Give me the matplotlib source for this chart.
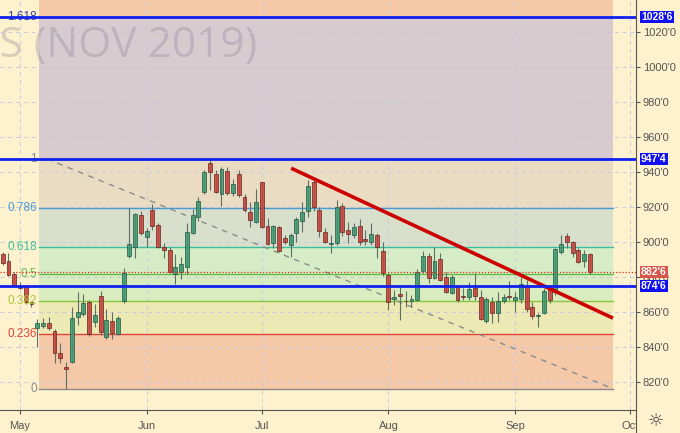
import pandas as pd
import matplotlib
matplotlib.use("Agg")
import matplotlib.pyplot as plt
from matplotlib.lines import Line2D
from matplotlib.transforms import Bbox, TransformedBbox, blended_transform_factory

# trading days (CBOT holidays removed)
holidays = pd.to_datetime(["2019-05-27", "2019-07-04", "2019-09-02"])
days = pd.bdate_range("2019-04-26", "2019-10-04")
days = days[~days.isin(holidays)]

opens = [893, 889, 881.7, 874.4, 874.4, 865.8, 850.6, 851.9, 853.4, 849,
         836.3, 828.6, 831.1, 856.9, 858.8, 865.6, 854, 869.1, 845.4, 854.9,
         847.3, 866.4, 891.9, 897.3, 915.4, 902.6, 918.3, 909.6, 897.1, 895.4,
         881.7, 883, 885.5, 905.3, 914.4, 928.8, 945, 938.9, 927.3, 940.4,
         927.8, 938.7, 925.6, 917.3, 911.6, 934.1, 909.3, 899.2, 908.4, 902.1,
         898.2, 904.9, 912, 917.7, 934.5, 918.3, 905.9, 898.6, 899.2, 920.6,
         906.8, 904, 909.1, 901.5, 899.7, 904, 894.8, 881.1, 867.3, 870.4,
         866.4, 866.2, 866.8, 883.4, 892.2, 879.5, 890.1, 879.7, 870.9, 874.4,
         868.9, 868.2, 873.4, 868.2, 854.9, 865.6, 859.5, 866.2, 868.9, 866.8,
         867.1, 874.9, 862.6, 857.6, 859.5, 873.4, 871.5, 894.2, 903.6, 899.8,
         895.4, 889.2, 893.1]
highs = [894, 893.8, 883, 877, 875, 866, 855.7, 856.3, 857.2, 850,
         842, 831.4, 863, 871.5, 870.2, 866.5, 864.5, 872.1, 861.4, 860,
         857.5, 884.9, 919.4, 916.8, 917.5, 908, 922, 911, 899.6, 897,
         893.1, 891.2, 910.7, 918.7, 925.9, 941.2, 947.5, 941.2, 943, 943,
         936, 941.2, 927.5, 923, 930.3, 934.5, 913.5, 909.5, 909, 904,
         905, 914, 923, 935.5, 935.5, 920, 907.8, 904, 924, 922.5,
         911.6, 911, 912.9, 906.8, 910.7, 905, 900.2, 882.5, 872.5, 874.4,
         872, 869.7, 884.5, 894.8, 893.9, 896.9, 893.4, 883, 881, 875,
         873.4, 877.2, 882, 872.5, 868.5, 868.5, 871.5, 870, 877.8, 871.3,
         879.7, 878.2, 865.8, 859.5, 873.4, 874.4, 896.3, 904, 905, 900.8,
         896.5, 895.5, 893.5]
lows = [887, 880.5, 874.4, 873, 864.5, 863, 840, 851, 849.6, 830.5,
        830.5, 816, 830.5, 852.4, 857.5, 846, 851.5, 846.7, 844.5, 844.3,
        846.5, 865.2, 890.8, 890.6, 904, 897, 906.8, 896.5, 890.6, 882.5,
        875.7, 878.6, 881.7, 904.5, 912.2, 927.5, 930, 928, 920.6, 927,
        926.5, 925.5, 917, 908.4, 911, 907.8, 898, 896.7, 894, 899,
        891.2, 900.2, 905.9, 914.5, 917.9, 903, 899.2, 893.5, 898, 903.5,
        899.2, 902.5, 898.5, 898.5, 898.5, 890.6, 880.5, 861, 863.9, 855.3,
        863, 863, 866.2, 882.2, 876.7, 878.6, 877.5, 870.5, 870.1, 865.5,
        866.6, 866.6, 866.6, 855.3, 853.4, 853.8, 854, 865.3, 866.6, 860,
        864.8, 860, 855.9, 851.5, 858.9, 865.3, 869.6, 893, 896.3, 891.5,
        887.8, 885.8, 881.7]
closes = [888, 881, 875.4, 873.6, 865.8, 864.5, 853.4, 853.4, 850.6, 836.3,
          833.4, 827.4, 856.3, 860, 864.9, 847.3, 858.2, 848.2, 855.3, 848,
          856.6, 882.4, 898.6, 916, 905, 906.3, 909, 897.3, 895.4, 883,
          885.8, 887.2, 905.9, 915.2, 923.6, 940, 940.2, 928.8, 941.6, 927.8,
          933, 926.7, 918.3, 912.6, 923, 908.7, 898.8, 909.1, 895, 900.2,
          904.2, 913.1, 917.3, 932, 920.2, 906.5, 900.2, 899.2, 919.9, 905.9,
          904.4, 908.4, 899.7, 900.5, 904.5, 897, 882, 865.4, 868.5, 868.9,
          866, 867.3, 883, 892.2, 879.5, 889.2, 878.3, 871.1, 880, 866.8,
          868.5, 873, 869, 855.9, 867.3, 859.5, 866.2, 868.2, 868.2, 868.5,
          875.9, 861.6, 857.8, 858, 872, 866.8, 895.7, 898.8, 900.2, 893.5,
          888.7, 893.1, 882.75]

# fibonacci retracement drawn on the chart
fib_low, fib_high = 816.0, 947.5
fib_ratios = [0, 0.236, 0.382, 0.5, 0.618, 0.786, 1, 1.618, 2.618]
fib_labels = ["0", "0.236", "0.382", "0.5", "0.618", "0.786", "1", "1.618", ""]
fib_x = [6.3, 106.0]
fib_diag = [7.7, 106.0]

# horizontal levels and trend line
blue_levels = [1028.75, 947.5, 874.75]
blue_texts = ["1028'6", "947'4", "874'6"]
last_price, last_text = 882.75, "882'6"
trend_x = [50.1, 106.0]
trend_y = [942.2, 856.4]

months = ["May", "Jun", "Jul", "Aug", "Sep", "Oct"]
price_ticks = list(range(820, 1021, 20))

cream = "#fdf2cd"
band_colors = ["#f5c9a8", "#ece9b4", "#d9ecc0", "#d6ecc6", "#d8e0cc",
               "#e9dcc2", "#d7cbcf", "#f6caa8"]
line_colors = ["#8a8a8a", "#e0443a", "#86c83a", "#5cbf4a", "#3cbfa0",
               "#4a9ad6", "#8a8a8a", "#3050e0", "#e0443a"]
label_colors = ["#8a8a8a", "#e0443a", "#a8c83c", "#5cbf4a", "#3cbfa0",
                "#4a9ad6", "#8a8a8a", "#34449a", "#e0443a"]

fig = plt.figure(figsize=(6.8, 4.33), dpi=100, facecolor=cream)
ax = fig.add_axes([0, 23 / 433, 636 / 680, 410 / 433])
ax.set_facecolor(cream)
ax.set_xlim(-0.47, 110.0)
ax.set_ylim(803.8, 1038.5)

# fib bands and levels
levels = [fib_low + r * (fib_high - fib_low) for r in fib_ratios]
for i in range(len(levels) - 1):
    ax.fill_between(fib_x, levels[i], levels[i + 1], color=band_colors[i],
                    lw=0, zorder=0.5)
for lv, c, lab, lc in zip(levels, line_colors, fib_labels, label_colors):
    ax.plot(fib_x, [lv, lv], color=c, lw=1.0, zorder=1.5)
    if lab:
        ax.text(fib_x[0] - 0.4, lv, lab, color=lc, fontsize=8.5,
                ha="right", va="center", family="Liberation Sans", zorder=3)
ax.plot(fib_diag, [fib_high, fib_low], color="#8c8c8c", lw=1.0,
        ls=(0, (4, 4)), zorder=1.6)

# grid
month_pos = [days.get_indexer([days[days.month == m][0]])[0]
             for m in [5, 6, 7, 8, 9, 10]]
for p in price_ticks + [1040]:
    ax.axhline(p, color="#c4cbe0", lw=0.7, ls=(0, (4, 4)), zorder=1)
for m in month_pos:
    ax.axvline(m, color="#c4cbe0", lw=0.7, ls=(0, (4, 4)), zorder=1)

# watermark
ax.text(0.404, 0.887, "SOYBEANS (NOV 2019)", transform=ax.transAxes,
        ha="right", va="center", fontsize=30.5, family="Open Sans",
        color="#8d8498", alpha=0.33, zorder=0.8, clip_on=True)

# candles
xs = list(range(len(closes)))
for x, o, h, l, c in zip(xs, opens, highs, lows, closes):
    up = c >= o
    body = "#3f9a72" if up else "#c9443c"
    edge = "#2a5a46" if up else "#6a2a24"
    ax.vlines(x, l, h, color="#5f6e66", lw=0.8, zorder=2)
    ax.bar(x, max(abs(c - o), 0.4), bottom=min(o, c), width=0.68,
           color=body, edgecolor=edge, lw=0.6, alpha=0.88, zorder=2.2)

# trend line and horizontals
ax.plot(trend_x, trend_y, color="#cc0000", lw=2.6, solid_capstyle="butt",
        zorder=4)
ax.axhline(last_price, color="#e03020", lw=0.9, ls=(0, (1, 1.5)), zorder=3)
for lv in blue_levels:
    ax.axhline(lv, color="#1020f0", lw=2.0, zorder=4)

# axes look
for s in ["top", "left"]:
    ax.spines[s].set_visible(False)
ax.spines["right"].set_color("#555555")
ax.spines["bottom"].set_color("#555555")
ax.yaxis.tick_right()
ax.set_yticks(price_ticks)
ax.set_yticklabels([f"{p}'0" for p in price_ticks])
ax.tick_params(axis="y", length=3, color="#555555", labelcolor="#555555",
               labelsize=8, pad=2)
ax.set_xticks(month_pos)
ax.set_xticklabels(months)
ax.tick_params(axis="x", length=3, color="#555555", labelcolor="#555555",
               labelsize=8, pad=5)
for t in ax.get_xticklabels() + ax.get_yticklabels():
    t.set_family("Liberation Sans")
clip = TransformedBbox(Bbox([[0, 0], [636 / 680, 1]]), fig.transFigure)
for t in ax.get_xticklabels():
    t.set_clip_box(clip)
    t.set_clip_on(True)

fig.add_artist(Line2D([636 / 680, 636 / 680], [0, 23 / 433], color="#555555",
                      lw=0.8))

# price tags on the right scale
tr = blended_transform_factory(ax.transAxes, ax.transData)
tags = list(zip(blue_levels, blue_texts, ["#1010f0"] * 3))
tags.append((last_price, last_text, "#d9574a"))
for lv, txt, fc in tags:
    ax.text(1.008, lv, txt, transform=tr, ha="left", va="center",
            fontsize=7.5, color="white", weight="bold",
            family="Liberation Sans",
            bbox=dict(boxstyle="square,pad=0.1", fc=fc, ec="none"),
            clip_on=False, zorder=6)

fig.text(656 / 680, 12 / 433, "\u263c", ha="center", va="center",
         fontsize=13, color="#444444")

fig.savefig("out.png", dpi=100, facecolor=cream)
